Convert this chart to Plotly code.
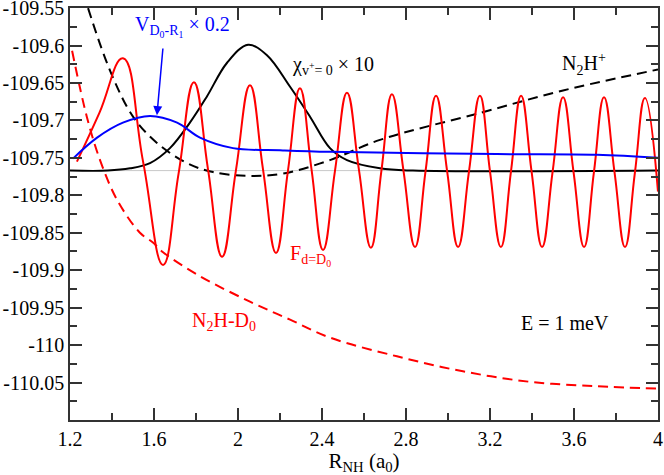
import plotly.graph_objects as go

# ---- data ----
# F_{d=D0} (red solid, oscillating)
f_x = [1.233, 1.34, 1.452, 1.548, 1.643, 1.717, 1.790, 1.857, 1.924, 1.990, 2.057,
       2.119, 2.181, 2.238, 2.295, 2.350, 2.405, 2.462, 2.519, 2.576, 2.633, 2.683,
       2.733, 2.788, 2.843, 2.893, 2.943, 2.996, 3.048, 3.100, 3.152, 3.200, 3.252,
       3.300, 3.348, 3.398, 3.448, 3.498, 3.548, 3.598, 3.648, 3.695, 3.743, 3.793,
       3.843, 3.890, 3.938, 4.0]
f_y = [-109.755, -109.690, -109.617, -109.755, -109.893, -109.771, -109.649, -109.765,
       -109.882, -109.767, -109.653, -109.765, -109.877, -109.767, -109.657, -109.765,
       -109.873, -109.767, -109.663, -109.766, -109.870, -109.767, -109.665, -109.767,
       -109.869, -109.768, -109.667, -109.768, -109.869, -109.768, -109.667, -109.768,
       -109.869, -109.768, -109.667, -109.768, -109.869, -109.769, -109.669, -109.769,
       -109.869, -109.769, -109.669, -109.769, -109.869, -109.770, -109.670, -109.795]

# N2H+ (black dashed)
n2hp_x = [1.286, 1.39, 1.50, 1.614, 1.757, 1.881, 2.043, 2.214, 2.438, 2.676, 3.152, 3.548, 4.0]
n2hp_y = [-109.55, -109.633, -109.695, -109.730, -109.757, -109.769, -109.774, -109.771,
          -109.753, -109.726, -109.690, -109.660, -109.632]

# N2H - D0 (red dashed)
n2hd_x = [1.21, 1.28, 1.343, 1.424, 1.533, 1.595, 1.643, 1.819, 2.057, 2.248, 2.438,
          2.757, 3.071, 3.39, 3.71, 4.0]
n2hd_y = [-109.607, -109.695, -109.753, -109.806, -109.850, -109.863, -109.876, -109.908,
          -109.942, -109.966, -109.990, -110.015, -110.035, -110.049, -110.055, -110.058]

# V_{D0-R1} x 0.2 (blue)
v_x = [1.214, 1.329, 1.452, 1.581, 1.71, 1.819, 1.976, 2.214, 2.438, 3.233, 3.71, 4.0]
v_y = [-109.751, -109.723, -109.703, -109.694, -109.703, -109.723, -109.737, -109.740,
       -109.742, -109.745, -109.746, -109.750]

# chi_{v+=0} x 10 (black solid)
chi_x = [1.2, 1.38, 1.486, 1.581, 1.676, 1.771, 1.852, 1.948, 2.048, 2.138, 2.248,
         2.343, 2.438, 2.519, 2.676, 2.833, 4.0]
chi_y = [-109.767, -109.767, -109.764, -109.757, -109.737, -109.703, -109.668, -109.623,
         -109.599, -109.613, -109.655, -109.695, -109.737, -109.753, -109.764, -109.767,
         -109.767]

# energy level (gray line)
e_level = -109.767

y_tickvals = [-109.55, -109.6, -109.65, -109.7, -109.75, -109.8, -109.85, -109.9,
              -109.95, -110.0, -110.05]
y_ticktext = ["-109.55", "-109.6", "-109.65", "-109.7", "-109.75", "-109.8", "-109.85",
              "-109.9", "-109.95", "-110", "-110.05"]
x_tickvals = [1.2, 1.6, 2.0, 2.4, 2.8, 3.2, 3.6, 4.0]
x_ticktext = ["1.2", "1.6", "2", "2.4", "2.8", "3.2", "3.6", "4"]

FONT = "Liberation Serif, Times New Roman, serif"

fig = go.Figure()
fig.add_trace(go.Scatter(x=[1.2, 4.0], y=[e_level, e_level], mode="lines",
                         line=dict(color="#c8c8c8", width=1)))
fig.add_trace(go.Scatter(x=n2hd_x, y=n2hd_y, mode="lines",
                         line=dict(color="#ff0000", width=2, dash="10px,6px", shape="spline")))
fig.add_trace(go.Scatter(x=n2hp_x, y=n2hp_y, mode="lines",
                         line=dict(color="#000000", width=2, dash="10px,6px", shape="spline")))
fig.add_trace(go.Scatter(x=chi_x, y=chi_y, mode="lines",
                         line=dict(color="#000000", width=2, shape="spline")))
fig.add_trace(go.Scatter(x=f_x, y=f_y, mode="lines",
                         line=dict(color="#ff0000", width=2, shape="spline", smoothing=1.3)))
fig.add_trace(go.Scatter(x=v_x, y=v_y, mode="lines",
                         line=dict(color="#0000ff", width=2, shape="spline")))

axis_common = dict(showline=True, linecolor="#333333", linewidth=1.5, mirror="ticks",
                   ticks="inside", ticklen=12, tickwidth=1.5, tickcolor="#333333",
                   showgrid=False, zeroline=False, automargin=False,
                   ticklabeloverflow="allow",
                   tickfont=dict(family=FONT, size=20, color="black"))

fig.update_layout(
    width=664, height=475,
    margin=dict(l=70, r=6, t=8, b=55),
    paper_bgcolor="white", plot_bgcolor="white",
    showlegend=False,
    font=dict(family=FONT, size=20, color="black"),
    xaxis=dict(range=[1.2, 4.0001], tickvals=x_tickvals, ticktext=x_ticktext,
               minor=dict(ticks="inside", ticklen=7, tickwidth=1.5, tickcolor="#333333",
                          dtick=0.2, tick0=1.2, showgrid=False),
               title=dict(text="R<sub>NH</sub> (a<sub>0</sub>)", font=dict(family=FONT, size=21),
                          standoff=4),
               **axis_common),
    yaxis=dict(range=[-110.1, -109.5499], tickvals=y_tickvals, ticktext=y_ticktext,
               minor=dict(ticks="inside", ticklen=7, tickwidth=1.5, tickcolor="#333333",
                          dtick=0.025, tick0=-109.55, showgrid=False),
               **axis_common),
)

ann = []
ann.append(dict(x=1.5, y=-109.575, xref="x", yref="y", xanchor="left", yanchor="middle",
                text="V<sub>D<sub>0</sub>-R<sub>1</sub></sub> × 0.2", showarrow=False,
                font=dict(family=FONT, size=20, color="#0000ff")))
ann.append(dict(x=1.614, y=-109.693, ax=1.643, ay=-109.602, xref="x", yref="y",
                axref="x", ayref="y", text="", showarrow=True, arrowhead=2,
                arrowsize=1.2, arrowwidth=1.5, arrowcolor="#0000ff"))
ann.append(dict(x=2.248, y=-109.626, xref="x", yref="y", xanchor="left", yanchor="middle",
                text="χ<sub>v<sup>+</sup>= 0</sub> × 10", showarrow=False,
                font=dict(family=FONT, size=20, color="black")))
ann.append(dict(x=3.533, y=-109.625, xref="x", yref="y", xanchor="left", yanchor="middle",
                text="N<sub>2</sub>H<sup>+</sup>", showarrow=False,
                font=dict(family=FONT, size=20, color="black")))
ann.append(dict(x=2.238, y=-109.88, xref="x", yref="y", xanchor="left", yanchor="middle",
                text="F<sub>d=D<sub>0</sub></sub>", showarrow=False,
                font=dict(family=FONT, size=20, color="#ff0000")))
ann.append(dict(x=1.771, y=-109.968, xref="x", yref="y", xanchor="left", yanchor="middle",
                text="N<sub>2</sub>H-D<sub>0</sub>", showarrow=False,
                font=dict(family=FONT, size=20, color="#ff0000")))
ann.append(dict(x=3.338, y=-109.97, xref="x", yref="y", xanchor="left", yanchor="middle",
                text="E = 1 meV", showarrow=False,
                font=dict(family=FONT, size=20, color="black")))
fig.update_layout(annotations=ann)

fig.write_html("out.html", config={"displayModeBar": False},
               post_script="document.body.style.margin='0';document.body.style.padding='0';")
